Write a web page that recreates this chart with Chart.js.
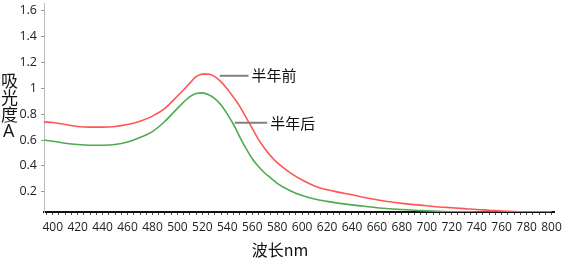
<!DOCTYPE html>
<html><head><meta charset="utf-8">
<script src="https://cdn.jsdelivr.net/npm/chart.js@4/dist/chart.umd.min.js"></script>
<style>html,body{margin:0;padding:0;background:#fff}#wrap{width:566px;height:260px;position:relative}</style>
</head><body><div id="wrap"><canvas id="c" width="566" height="260"></canvas></div>
<script>
const wavelengths = [393,400,410,420,430,440,450,460,470,480,490,500,510,515,520,525,530,535,540,545,550,555,560,565,570,575,580,590,600,610,620,630,640,650,660,670,680,690,700,710,720,730,740,750,760,770,780,790,800];
const before = [0.74,0.735,0.72,0.705,0.70,0.70,0.705,0.72,0.745,0.785,0.845,0.94,1.04,1.09,1.11,1.11,1.09,1.05,0.995,0.93,0.86,0.775,0.69,0.605,0.535,0.475,0.425,0.35,0.29,0.245,0.215,0.195,0.176,0.155,0.138,0.122,0.11,0.10,0.091,0.082,0.076,0.069,0.062,0.057,0.051,0.047,0.045,0.044,0.044];
const after = [0.60,0.59,0.575,0.565,0.56,0.56,0.565,0.585,0.62,0.665,0.745,0.845,0.935,0.96,0.965,0.95,0.92,0.87,0.80,0.72,0.625,0.535,0.455,0.395,0.345,0.305,0.265,0.21,0.17,0.143,0.125,0.11,0.098,0.087,0.076,0.068,0.062,0.056,0.052,0.048,0.045,0.044,0.043,0.043,0.043,0.043,0.043,0.043,0.043];
const seriesNames = ['半年前','半年后'];
const yTicks = [0.2,0.4,0.6,0.8,1.0,1.2,1.4,1.6];
const xTickStep = 5, xLabelStep = 20;
const yTitleChars = ['吸','光','度','A'];
const xTitle = '波长nm';
// annotation leader lines: [startNm, endNm, value]
const leaders = [[534,557,1.097],[546,572,0.733]];

const toPts = arr => wavelengths.map((w,i)=>({x:w,y:arr[i]}));

const overlay = {
  id:'overlay',
  afterDraw(chart){
    const ctx = chart.ctx, xs = chart.scales.x, ys = chart.scales.y;
    ctx.save();
    ctx.fillStyle = '#111';
    ctx.textBaseline = 'middle';
    ctx.textAlign = 'left';
    ctx.font = '17px "Noto Sans CJK SC"';
    const ty = [81, 98, 115];
    yTitleChars.forEach((c,i)=>{
      if (i<3) ctx.fillText(c, 1, ty[i]);
      else { ctx.font = '18px "Open Sans"'; ctx.fillText(c, 3, 132); }
    });
    ctx.font = '16px "Noto Sans CJK SC"';
    ctx.textAlign = 'center';
    ctx.fillText(xTitle, 280, 250);
    leaders.forEach((l,i)=>{
      const x1 = xs.getPixelForValue(l[0]), x2 = xs.getPixelForValue(l[1]), y = ys.getPixelForValue(l[2]);
      ctx.strokeStyle = '#808080'; ctx.lineWidth = 2;
      ctx.beginPath(); ctx.moveTo(x1,y); ctx.lineTo(x2,y); ctx.stroke();
      ctx.fillStyle = '#111'; ctx.textAlign = 'left';
      ctx.font = '15px "Noto Sans CJK SC"';
      ctx.fillText(seriesNames[i], x2+3, y);
    });
    ctx.restore();
  }
};

new Chart(document.getElementById('c'), {
  type:'line',
  data:{datasets:[
    {label:seriesNames[0], data:toPts(before), borderColor:'rgb(255,85,85)', borderWidth:1.6, pointRadius:0, cubicInterpolationMode:'monotone', fill:false},
    {label:seriesNames[1], data:toPts(after), borderColor:'rgb(80,170,80)', borderWidth:1.6, pointRadius:0, cubicInterpolationMode:'monotone', fill:false}
  ]},
  options:{
    responsive:false, animation:false,
    layout:{padding:{top:3,right:12,left:0,bottom:0}},
    plugins:{legend:{display:false}, tooltip:{enabled:false}},
    scales:{
      x:{type:'linear', min:393, max:802,
        afterBuildTicks(s){ const t=[]; for(let v=395; v<=800; v+=xTickStep) t.push({value:v}); s.ticks=t; },
        afterFit(s){ s.height = 48; s.paddingLeft = 0; s.paddingRight = 0; },
        ticks:{autoSkip:false, maxRotation:0, padding:5, color:'#222', font:{family:'Open Sans', size:12},
          callback:v=> (v % xLabelStep === 0 ? String(v) : '')},
        grid:{display:true, drawOnChartArea:false, drawTicks:true, tickLength:3, color:'#555', lineWidth:1},
        border:{display:true, color:'#111', width:2}
      },
      y:{type:'linear', min:0.043, max:1.66,
        afterBuildTicks(s){ s.ticks = yTicks.map(v=>({value:v})); },
        afterFit(s){ s.width = 44; s.paddingTop = 0; s.paddingBottom = 0; },
        ticks:{padding:4, color:'#222', font:{family:'Open Sans', size:12.5}, callback:v=>String(Math.round(v*10)/10)},
        grid:{display:true, drawOnChartArea:false, drawTicks:true, tickLength:3, color:'#999', lineWidth:1},
        border:{display:true, color:'#bbb', width:1, dash:[1,2]}
      }
    }
  },
  plugins:[overlay]
});
</script></body></html>
